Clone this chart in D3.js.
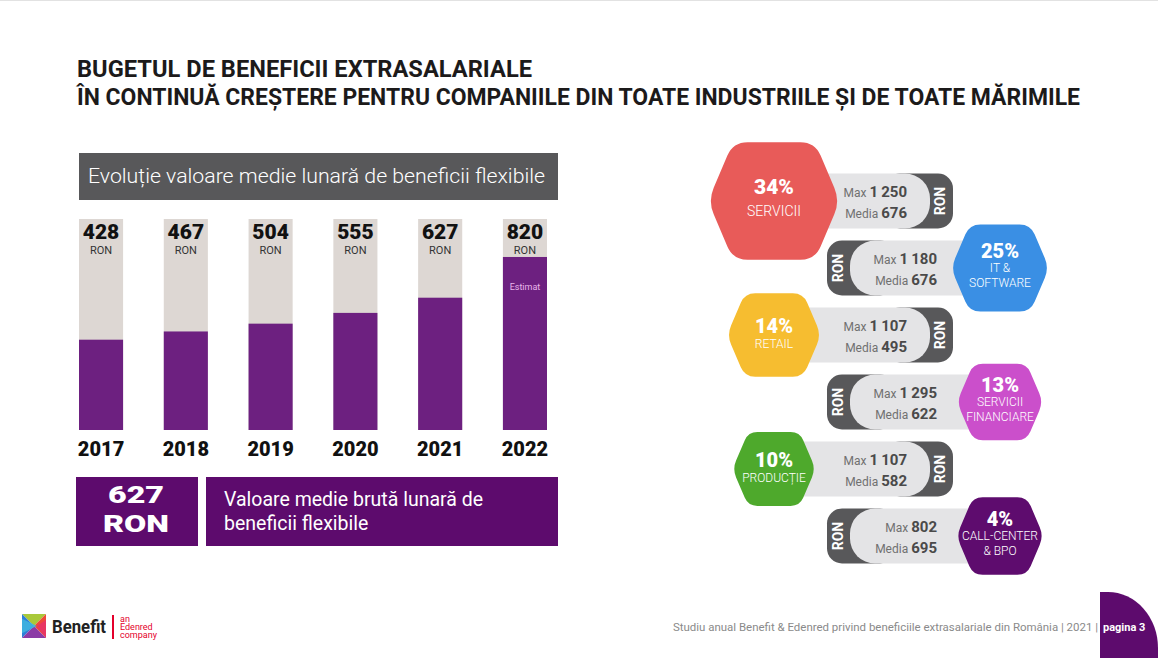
<!DOCTYPE html>
<html><head><meta charset="utf-8">
<script src="https://cdn.jsdelivr.net/npm/d3@7"></script>
<style>
html,body{margin:0;padding:0;background:#fff;}
svg{display:block;font-family:Roboto,"Open Sans",sans-serif;}
</style></head><body>
<svg id="chart" width="1158" height="658"></svg>
<script>
// ---------------- data ----------------
const titleLines = ["BUGETUL DE BENEFICII EXTRASALARIALE",
  "ÎN CONTINUĂ CREȘTERE PENTRU COMPANIILE DIN TOATE INDUSTRIILE ȘI DE TOATE MĂRIMILE"];
const barTitle = "Evoluție valoare medie lunară de beneficii flexibile";
const years = ["2017","2018","2019","2020","2021","2022"];
const avgValues = [428,467,504,555,627,820];
const currencyLabel = "RON";
const estimatedYear = "2022";
const estimatedLabel = "Estimat";
const highlightValue = 627;
const highlightLabel = ["Valoare medie brută lunară de","beneficii flexibile"];
const industries = [["SERVICII"],["IT &","SOFTWARE"],["RETAIL"],["SERVICII","FINANCIARE"],["PRODUCȚIE"],["CALL-CENTER","& BPO"]];
const shares = [34,25,14,13,10,4];
const maxValues = [1250,1180,1107,1295,1107,802];
const mediaValues = [676,676,495,622,582,695];
const footerText = "Studiu anual Benefit & Edenred privind beneficiile extrasalariale din România | 2021 |";
const pageLabel = "pagina 3";

// ---------------- styles / layout ----------------
const hexColors = ["#e85b59","#3a8fe4","#f6bd30","#cb4fcb","#4ea92c","#5e0c6e"];
const hexWidths = [132,98,94,86,83,87];
const barPurple = "#6d2080", barBg = "#ddd7d3", boxPurple = "#5d0b6d", darkGray = "#58585a", pillGray = "#e4e4e6";

const svg = d3.select("#chart");
const fmt = v => d3.format(",")(v).replace(/,/g, "\u2009");

// top faint line
svg.append("line").attr("x1",0).attr("x2",1158).attr("y1",0.5).attr("y2",0.5).attr("stroke","#e2e2e2");

// ---------------- title ----------------
const titleW = [455, 1003];
svg.selectAll("text.title").data(titleLines).join("text")
  .attr("class","title").attr("x",77).attr("y",(d,i)=>77+i*28)
  .attr("font-size",24).attr("font-weight",700).attr("fill","#1c1a1a")
  .attr("textLength",(d,i)=>titleW[i]).attr("lengthAdjust","spacingAndGlyphs")
  .text(d=>d);

// ---------------- bar chart ----------------
svg.append("rect").attr("x",79).attr("y",153).attr("width",479).attr("height",47).attr("fill",darkGray);
svg.append("text").attr("x",88).attr("y",183).attr("font-size",20).attr("font-weight",300)
  .attr("fill","#fff").attr("textLength",457).attr("lengthAdjust","spacingAndGlyphs").text(barTitle);

const x = d3.scaleBand().domain(years).range([79,547]).paddingInner(0.48).paddingOuter(0);
const y = d3.scaleLinear().domain([0,1000]).range([430,219]);
const bars = years.map((yr,i)=>({year:yr, value:avgValues[i]}));

const g = svg.append("g");
g.selectAll("rect.bg").data(bars).join("rect").attr("class","bg")
  .attr("x",d=>x(d.year)).attr("width",x.bandwidth())
  .attr("y",y(1000)).attr("height",y(0)-y(1000)).attr("fill",barBg);
g.selectAll("rect.val").data(bars).join("rect").attr("class","val")
  .attr("x",d=>x(d.year)).attr("width",x.bandwidth())
  .attr("y",d=>y(d.value)).attr("height",d=>y(0)-y(d.value)).attr("fill",barPurple);
g.selectAll("text.v").data(bars).join("text").attr("class","v")
  .attr("x",d=>x(d.year)+x.bandwidth()/2).attr("y",239).attr("text-anchor","middle")
  .attr("font-size",21).attr("font-weight",900).attr("fill","#111").text(d=>d.value);
g.selectAll("text.ron").data(bars).join("text").attr("class","ron")
  .attr("x",d=>x(d.year)+x.bandwidth()/2).attr("y",254).attr("text-anchor","middle")
  .attr("font-size",11).attr("fill","#333").text(currencyLabel);
g.selectAll("text.est").data(bars.filter(d=>d.year===estimatedYear)).join("text").attr("class","est")
  .attr("x",d=>x(d.year)+x.bandwidth()/2).attr("y",d=>y(d.value)+33)
  .attr("text-anchor","middle").attr("font-size",9).attr("fill","#e9b6ea").text(estimatedLabel);
// x axis labels (year)
const xAxis = d3.axisBottom(x).tickSize(0).tickPadding(0);
const ax = svg.append("g").attr("transform","translate(0,442)").call(xAxis);
ax.select(".domain").remove();
ax.selectAll("text").attr("font-size",20).attr("font-weight",900).attr("fill","#111")
  .attr("font-family","Roboto,sans-serif").attr("dy","0.71em");

// highlight boxes
svg.append("rect").attr("x",76).attr("y",477).attr("width",122).attr("height",69).attr("fill",boxPurple);
svg.append("rect").attr("x",206).attr("y",477).attr("width",352).attr("height",69).attr("fill",boxPurple);
[String(highlightValue), currencyLabel].forEach((t,i)=>{
  svg.append("text").attr("x",136).attr("y",503+i*29).attr("text-anchor","middle")
    .attr("font-size",24).attr("font-weight",900).attr("fill","#fff")
    .attr("textLength",i===0?56:66).attr("lengthAdjust","spacingAndGlyphs").text(t);
});
svg.selectAll("text.hl").data(highlightLabel).join("text").attr("class","hl")
  .attr("x",224).attr("y",(d,i)=>506+i*24).attr("font-size",19.5).attr("font-weight",400)
  .attr("fill","#fff").text(d=>d);

// ---------------- industries ----------------
const rowY = d3.scalePoint().domain(d3.range(industries.length)).range([201,536]);
function roundedPoly(pts, r){
  const p = d3.path(); const n = pts.length;
  for(let i=0;i<n;i++){
    const p0=pts[(i-1+n)%n], p1=pts[i], p2=pts[(i+1)%n];
    const l1=Math.hypot(p0[0]-p1[0],p0[1]-p1[1]), l2=Math.hypot(p2[0]-p1[0],p2[1]-p1[1]);
    const a=[p1[0]+(p0[0]-p1[0])/l1*r, p1[1]+(p0[1]-p1[1])/l1*r];
    const b=[p1[0]+(p2[0]-p1[0])/l2*r, p1[1]+(p2[1]-p1[1])/l2*r];
    if(i===0) p.moveTo(a[0],a[1]); else p.lineTo(a[0],a[1]);
    p.quadraticCurveTo(p1[0],p1[1],b[0],b[1]);
  }
  p.closePath(); return p.toString();
}
const rows = industries.map((lab,i)=>({lab, share:shares[i], max:maxValues[i], media:mediaValues[i], i,
  left: i%2===0, cy: rowY(i), w: hexWidths[i], color: hexColors[i]}));

rows.forEach(r=>{
  const gg = svg.append("g");
  const top = r.cy-27.5, h = 55;
  if(r.left){
    gg.append("rect").attr("x",885).attr("y",top).attr("width",68).attr("height",h).attr("rx",15).attr("fill",darkGray);
    gg.append("rect").attr("x",780).attr("y",top).attr("width",150).attr("height",h).attr("rx",25).attr("fill",pillGray);
    gg.append("text").attr("transform",`translate(945,${r.cy}) rotate(-90)`).attr("text-anchor","middle")
      .attr("font-size",14).attr("font-weight",700).attr("fill","#fff").text(currencyLabel);
  } else {
    gg.append("rect").attr("x",827).attr("y",top).attr("width",68).attr("height",h).attr("rx",15).attr("fill",darkGray);
    gg.append("rect").attr("x",850).attr("y",top).attr("width",150).attr("height",h).attr("rx",25).attr("fill",pillGray);
    gg.append("text").attr("transform",`translate(843,${r.cy}) rotate(-90)`).attr("text-anchor","middle")
      .attr("font-size",14).attr("font-weight",700).attr("fill","#fff").text(currencyLabel);
  }
  const tx = r.left ? 907 : 937;
  [["Max",fmt(r.max),-4],["Media",fmt(r.media),17]].forEach(([k,v,dy])=>{
    const t = gg.append("text").attr("x",tx).attr("y",r.cy+dy).attr("text-anchor","end");
    t.append("tspan").attr("font-size",12).attr("fill","#707070").text(k+" ");
    t.append("tspan").attr("font-size",15).attr("font-weight",700).attr("fill","#4a4a4a").text(v);
  });
  // hexagon
  const cx = r.left ? 774 : 1000, w = r.w, hh = w*0.89, tw = w*0.31;
  const pts = [[cx-w/2,r.cy],[cx-tw,r.cy-hh/2],[cx+tw,r.cy-hh/2],[cx+w/2,r.cy],[cx+tw,r.cy+hh/2],[cx-tw,r.cy+hh/2]];
  gg.append("path").attr("d",roundedPoly(pts,w*0.11)).attr("fill",r.color);
  const two = r.lab.length>1;
  gg.append("text").attr("x",cx).attr("y",r.cy+(two?-10:(r.i===0?-7:-2))).attr("text-anchor","middle")
    .attr("font-size",r.i===0?21:20).attr("font-weight",900).attr("fill","#fff").text(r.share+"%");
  r.lab.forEach((l,j)=>{
    gg.append("text").attr("x",cx).attr("y",r.cy+(two?4+j*15:(r.i===0?15:13))).attr("text-anchor","middle")
      .attr("font-size",r.i===0?14:12).attr("font-weight",300).attr("fill","#fff").text(l);
  });
});

// ---------------- footer ----------------
svg.append("path").attr("d","M1100,658V592H1108A50,56 0 0 1 1158,648V658Z").attr("fill",boxPurple);
svg.append("text").attr("x",1098).attr("y",631).attr("text-anchor","end").attr("font-size",11)
  .attr("fill","#8a8a8a").attr("textLength",425).attr("lengthAdjust","spacingAndGlyphs").text(footerText);
svg.append("text").attr("x",1103).attr("y",631).attr("font-size",11).attr("font-weight",700)
  .attr("fill","#fff").text(pageLabel);

// logo
const lg = svg.append("g").attr("transform","translate(22,614)");
const L = 24;
lg.append("polygon").attr("points",`0,0 ${L},0 ${L/2},${L/2}`).attr("fill","#a9c93a");
lg.append("polygon").attr("points",`0,0 ${L/2},${L/2} 0,${L}`).attr("fill","#2e7fd8");
lg.append("polygon").attr("points",`${L},0 ${L},${L} ${L/2},${L/2}`).attr("fill","#ee4a3a");
lg.append("polygon").attr("points",`0,${L} ${L/2},${L/2} ${L},${L}`).attr("fill","#8c3aa6");
lg.append("polygon").attr("points",`0,${L*0.2} ${L*0.62},${L/2} 0,${L*0.8}`).attr("fill","#3fb6e0").attr("opacity",0.85);
lg.append("polygon").attr("points",`${L},${L*0.25} ${L*0.62},${L/2} ${L},${L}`).attr("fill","#e6316e").attr("opacity",0.8);
svg.append("text").attr("x",52).attr("y",633).attr("font-size",18).attr("font-weight",700)
  .attr("fill","#222").attr("textLength",54).attr("lengthAdjust","spacingAndGlyphs").text("Benefit");
svg.append("rect").attr("x",112).attr("y",615).attr("width",2).attr("height",24).attr("fill","#e4002b");
["an","Edenred","company"].forEach((t,i)=>{
  svg.append("text").attr("x",120).attr("y",622+i*8).attr("font-size",9).attr("fill","#e4002b").text(t);
});
</script>
</body></html>
